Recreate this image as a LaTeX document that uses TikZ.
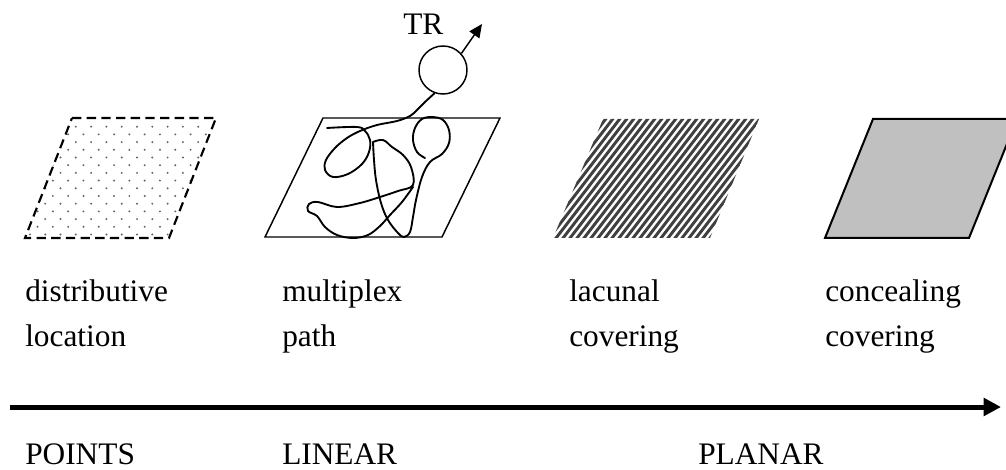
\documentclass[tikz,border=0pt]{standalone}
\usepackage{fontspec}
\setmainfont{Liberation Serif}
\usetikzlibrary{arrows.meta}
\definecolor{sheet}{RGB}{192,192,192}
\tikzset{
  lbl/.style={anchor=base west,inner sep=0pt,align=left,font=\fontsize{23.5}{33.75}\selectfont},
  scrib/.style={line width=1.4pt,line join=round,line cap=round},
}
\begin{document}
\begin{tikzpicture}[x=0.75pt,y=-0.75pt]
\useasboundingbox (0,0) rectangle (1006,470);
\clip (0,0) rectangle (1006,470);
% distributive location
\begin{scope}
\clip (72,118) -- (216,118) -- (169,238) -- (25,238) -- cycle;
\foreach \j in {1,...,16} \foreach \i in {0,...,15}
  \fill[black!60] ({15.3*\i-16+7.65*(1-mod(\j,2))},{119+7.7*\j}) circle (1.1);
\end{scope}
\draw[line width=1.6pt,dash pattern=on 7pt off 4pt] (72,118) -- (216,118) -- (169,238) -- (25,238) -- cycle;
% multiplex path
\draw[line width=1.1pt] (323,118) -- (500,118) -- (442,237) -- (265,237) -- cycle;
\node[draw,circle,line width=1.1pt,minimum size=36pt,inner sep=0pt] (obj) at (443,70) {};
\coordinate (dir) at (482,24);
\draw[line width=1.1pt,-{Triangle[length=10pt,width=9pt]}] (obj.42) -- (dir);
\node[lbl] (tr) at (403,35) {TR};
\draw[scrib] plot[smooth,tension=0.6] coordinates {(obj.-110) (425,102) (417,110) (410,116) (397,121)
  (377,125) (360,131) (347,138) (335,148) (326,160) (325,170) (333,177) (348,174) (362,164)
  (369,152) (370,140) (365,131) (357,127) (327,128)};
\draw[scrib] plot[smooth,tension=0.6] coordinates {(373,142) (374,160) (376,180) (381,203)
  (388,220) (398,233) (404,237) (410,232) (413,217) (416,200) (422,177) (430,162) (442,154)
  (449,143) (449,130) (443,120) (433,117) (422,119) (415,128) (413,140) (417,152) (425,158)};
\draw[scrib] plot[smooth,tension=0.6] coordinates {(373,142) (383,140) (392,147) (403,155)
  (411,167) (413,185) (398,191) (380,197) (360,203) (337,207) (318,202) (309,204) (308,211)
  (317,216) (325,227) (337,235) (353,238) (368,235) (380,226) (390,215) (402,202) (413,187)};
% lacunal covering
\begin{scope}
\clip (603,119) -- (759,119) -- (710,238) -- (553,238) -- cycle;
\foreach \i in {0,...,42}
  \draw[line width=2.2pt,black!75] ({455+7*\i},242) -- ++(97,-126);
\end{scope}
% concealing covering
\draw[line width=1.5pt,fill=sheet] (873,119) -- (1017,119) -- (969,238) -- (825,238) -- cycle;
% labels
\node[lbl] (dl) at (25,346) {distributive\\location};
\node[lbl] (mp) at (282,346) {multiplex\\path};
\node[lbl] (lc) at (569,346) {lacunal\\covering};
\node[lbl] (cc) at (825,346) {concealing\\covering};
% scale
\coordinate (axl) at (10,407);
\coordinate (axr) at (1001,407);
\draw[line width=3.75pt,-{Triangle[length=13pt,width=13pt]}] (axl) -- (axr);
\node[lbl] (pts) at (25,464) {POINTS};
\node[lbl] (lin) at (282,464) {LINEAR};
\node[lbl] (pla) at (698,464) {PLANAR};
\end{tikzpicture}
\end{document}
